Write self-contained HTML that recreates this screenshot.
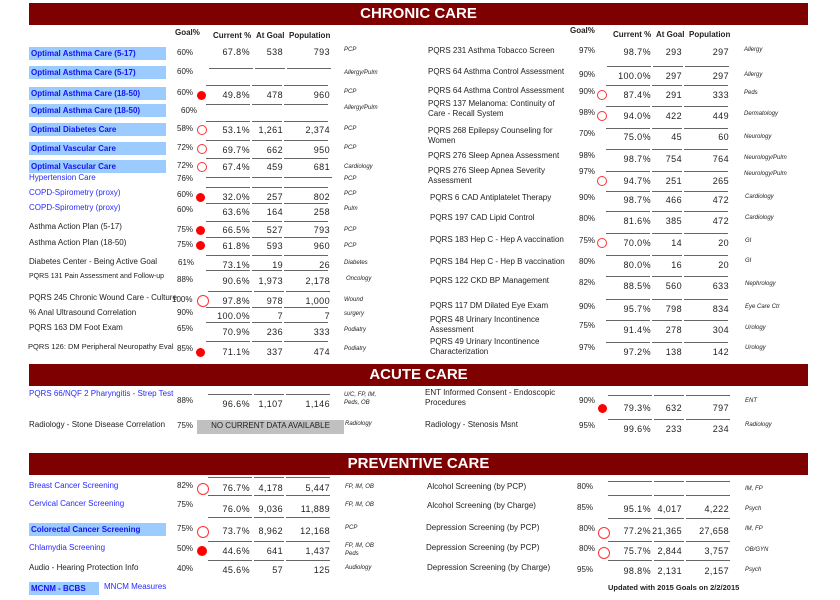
<!DOCTYPE html>
<html><head><meta charset="utf-8"><style>
body{margin:0;width:840px;height:600px;background:#fff;position:relative;overflow:hidden;font-family:"Liberation Sans",sans-serif;color:#222}
div{position:absolute}
.t{font-size:8px;line-height:10px;white-space:nowrap}
.b{background:#7f0000;left:29px;width:779px;height:22px;color:#fff;font-weight:bold;font-size:15px;line-height:22px;text-align:center}
.bl{color:#2a2aff}
.box{background:#9ccbff;color:#1414f0;font-weight:bold;left:29px;width:137px;height:13px;line-height:13px;font-size:8px;padding-left:2px;box-sizing:border-box;white-space:nowrap}
.h{font-size:8px;font-weight:bold;line-height:10px;white-space:nowrap}
.c,.g,.p,.C,.G,.P{font-size:9px;letter-spacing:0.4px}
.c{left:205px;width:45px;text-align:right}
.g{left:251px;width:32px;text-align:right}
.p{left:283px;width:47px;text-align:right}
.C{left:607px;width:44px;text-align:right}
.G{left:652px;width:30px;text-align:right}
.P{left:683px;width:46px;text-align:right}
.d{font-size:6px;font-style:italic;line-height:8px;white-space:nowrap}
.L{height:1px;background:linear-gradient(to right,#666 0,#666 44px,#fff 44px,#fff 46px,#666 46px,#666 76px,#fff 76px,#fff 78px,#666 78px)}
.dot{width:9px;height:9px;border-radius:50%;background:#f00}
.o{width:8px;height:8px;border-radius:50%;border:1px solid #f33}
</style></head><body>
<div class="b" style="top:3px">CHRONIC CARE</div>
<div class="h" style="left:175px;top:28px">Goal%</div>
<div class="h" style="left:213px;top:31px">Current %</div>
<div class="h" style="left:256px;top:31px">At Goal</div>
<div class="h" style="left:289px;top:31px">Population</div>
<div class="h" style="left:570px;top:26px">Goal%</div>
<div class="h" style="left:613px;top:30px">Current %</div>
<div class="h" style="left:656px;top:30px">At Goal</div>
<div class="h" style="left:689px;top:30px">Population</div>

<div class="L" style="left:209px;top:68px;width:122px"></div>
<div class="L" style="left:206px;top:85px;width:122px"></div>
<div class="L" style="left:206px;top:104px;width:122px"></div>
<div class="L" style="left:206px;top:121px;width:122px"></div>
<div class="L" style="left:206px;top:140px;width:122px"></div>
<div class="L" style="left:206px;top:158px;width:122px"></div>
<div class="L" style="left:206px;top:177px;width:126px"></div>
<div class="L" style="left:206px;top:187px;width:122px"></div>
<div class="L" style="left:206px;top:203px;width:122px"></div>
<div class="L" style="left:206px;top:221px;width:122px"></div>
<div class="L" style="left:206px;top:237px;width:122px"></div>
<div class="L" style="left:206px;top:255px;width:122px"></div>
<div class="L" style="left:206px;top:270px;width:122px"></div>
<div class="L" style="left:208px;top:291px;width:122px"></div>
<div class="L" style="left:206px;top:307px;width:122px"></div>
<div class="L" style="left:206px;top:322px;width:122px"></div>
<div class="L" style="left:206px;top:341px;width:122px"></div>

<div class="box" style="top:47px">Optimal Asthma Care (5-17)</div>
<div class="box" style="top:66px">Optimal Asthma Care (5-17)</div>
<div class="box" style="top:87px">Optimal Asthma Care (18-50)</div>
<div class="box" style="top:104px">Optimal Asthma Care (18-50)</div>
<div class="box" style="top:123px">Optimal Diabetes Care</div>
<div class="box" style="top:142px">Optimal Vascular Care</div>
<div class="box" style="top:160px">Optimal Vascular Care</div>
<div class="t bl" style="left:29px;top:173px">Hypertension Care</div>
<div class="t bl" style="left:29px;top:188px">COPD-Spirometry (proxy)</div>
<div class="t bl" style="left:29px;top:203px">COPD-Spirometry (proxy)</div>
<div class="t" style="left:29px;top:222px">Asthma Action Plan (5-17)</div>
<div class="t" style="left:29px;top:238px">Asthma Action Plan (18-50)</div>
<div class="t" style="left:29px;top:257px">Diabetes Center - Being Active Goal</div>
<div class="t" style="left:29px;top:272px;font-size:7px">PQRS 131 Pain Assessment and Follow-up</div>
<div class="t" style="left:29px;top:293px">PQRS 245 Chronic Wound Care - Culture</div>
<div class="t" style="left:29px;top:308px">% Anal Ultrasound Correlation</div>
<div class="t" style="left:29px;top:323px">PQRS 163 DM Foot Exam</div>
<div class="t" style="left:28px;top:342px;font-size:7.5px">PQRS 126: DM Peripheral Neuropathy Eval</div>

<div class="t" style="left:177px;top:48px">60%</div>
<div class="t" style="left:177px;top:67px">60%</div>
<div class="t" style="left:177px;top:88px">60%</div>
<div class="t" style="left:181px;top:106px">60%</div>
<div class="t" style="left:177px;top:124px">58%</div>
<div class="t" style="left:177px;top:143px">72%</div>
<div class="t" style="left:177px;top:161px">72%</div>
<div class="t" style="left:177px;top:174px">76%</div>
<div class="t" style="left:177px;top:190px">60%</div>
<div class="t" style="left:177px;top:205px">60%</div>
<div class="t" style="left:177px;top:225px">75%</div>
<div class="t" style="left:177px;top:240px">75%</div>
<div class="t" style="left:178px;top:258px">61%</div>
<div class="t" style="left:177px;top:275px">88%</div>
<div class="t" style="left:172px;top:295px">100%</div>
<div class="t" style="left:177px;top:308px">90%</div>
<div class="t" style="left:177px;top:324px">65%</div>
<div class="t" style="left:177px;top:344px">85%</div>

<div class="dot" style="left:197px;top:91px"></div>
<div class="o" style="left:197px;top:125px"></div>
<div class="o" style="left:197px;top:144px"></div>
<div class="o" style="left:197px;top:162px"></div>
<div class="dot" style="left:196px;top:193px"></div>
<div class="dot" style="left:196px;top:226px"></div>
<div class="dot" style="left:196px;top:241px"></div>
<div class="o" style="left:197px;top:295px;width:10px;height:10px"></div>
<div class="dot" style="left:196px;top:348px"></div>

<div class="t c" style="top:47px">67.8%</div><div class="t g" style="top:47px">538</div><div class="t p" style="top:47px">793</div>
<div class="t c" style="top:90px">49.8%</div><div class="t g" style="top:90px">478</div><div class="t p" style="top:90px">960</div>
<div class="t c" style="top:125px">53.1%</div><div class="t g" style="top:125px">1,261</div><div class="t p" style="top:125px">2,374</div>
<div class="t c" style="top:145px">69.7%</div><div class="t g" style="top:145px">662</div><div class="t p" style="top:145px">950</div>
<div class="t c" style="top:162px">67.4%</div><div class="t g" style="top:162px">459</div><div class="t p" style="top:162px">681</div>
<div class="t c" style="top:192px">32.0%</div><div class="t g" style="top:192px">257</div><div class="t p" style="top:192px">802</div>
<div class="t c" style="top:207px">63.6%</div><div class="t g" style="top:207px">164</div><div class="t p" style="top:207px">258</div>
<div class="t c" style="top:225px">66.5%</div><div class="t g" style="top:225px">527</div><div class="t p" style="top:225px">793</div>
<div class="t c" style="top:241px">61.8%</div><div class="t g" style="top:241px">593</div><div class="t p" style="top:241px">960</div>
<div class="t c" style="top:260px">73.1%</div><div class="t g" style="top:260px">19</div><div class="t p" style="top:260px">26</div>
<div class="t c" style="top:276px">90.6%</div><div class="t g" style="top:276px">1,973</div><div class="t p" style="top:276px">2,178</div>
<div class="t c" style="top:296px">97.8%</div><div class="t g" style="top:296px">978</div><div class="t p" style="top:296px">1,000</div>
<div class="t c" style="top:311px">100.0%</div><div class="t g" style="top:311px">7</div><div class="t p" style="top:311px">7</div>
<div class="t c" style="top:327px">70.9%</div><div class="t g" style="top:327px">236</div><div class="t p" style="top:327px">333</div>
<div class="t c" style="top:347px">71.1%</div><div class="t g" style="top:347px">337</div><div class="t p" style="top:347px">474</div>

<div class="d" style="left:344px;top:46px">PCP</div>
<div class="d" style="left:344px;top:69px">Allergy/Pulm</div>
<div class="d" style="left:344px;top:88px">PCP</div>
<div class="d" style="left:344px;top:104px">Allergy/Pulm</div>
<div class="d" style="left:344px;top:125px">PCP</div>
<div class="d" style="left:344px;top:144px">PCP</div>
<div class="d" style="left:344px;top:163px">Cardiology</div>
<div class="d" style="left:344px;top:175px">PCP</div>
<div class="d" style="left:344px;top:190px">PCP</div>
<div class="d" style="left:344px;top:205px">Pulm</div>
<div class="d" style="left:344px;top:226px">PCP</div>
<div class="d" style="left:344px;top:242px">PCP</div>
<div class="d" style="left:344px;top:259px">Diabetes</div>
<div class="d" style="left:346px;top:275px">Oncology</div>
<div class="d" style="left:344px;top:296px">Wound</div>
<div class="d" style="left:344px;top:310px">surgery</div>
<div class="d" style="left:344px;top:326px">Podiatry</div>
<div class="d" style="left:344px;top:345px">Podiatry</div>

<div class="L" style="left:607px;top:66px;width:122px"></div>
<div class="L" style="left:606px;top:85px;width:122px"></div>
<div class="L" style="left:606px;top:106px;width:122px"></div>
<div class="L" style="left:606px;top:128px;width:122px"></div>
<div class="L" style="left:606px;top:149px;width:122px"></div>
<div class="L" style="left:606px;top:171px;width:122px"></div>
<div class="L" style="left:606px;top:191px;width:122px"></div>
<div class="L" style="left:606px;top:211px;width:122px"></div>
<div class="L" style="left:606px;top:233px;width:122px"></div>
<div class="L" style="left:606px;top:255px;width:122px"></div>
<div class="L" style="left:606px;top:276px;width:122px"></div>
<div class="L" style="left:606px;top:299px;width:122px"></div>
<div class="L" style="left:606px;top:320px;width:122px"></div>
<div class="L" style="left:606px;top:342px;width:122px"></div>

<div class="t" style="left:428px;top:46px">PQRS 231 Asthma Tobacco Screen</div>
<div class="t" style="left:428px;top:67px">PQRS 64 Asthma Control Assessment</div>
<div class="t" style="left:428px;top:86px">PQRS 64 Asthma Control Assessment</div>
<div class="t" style="left:428px;top:99px">PQRS 137 Melanoma: Continuity of<br>Care - Recall System</div>
<div class="t" style="left:428px;top:126px">PQRS 268 Epilepsy Counseling for<br>Women</div>
<div class="t" style="left:428px;top:151px">PQRS 276 Sleep Apnea Assessment</div>
<div class="t" style="left:428px;top:166px">PQRS 276 Sleep Apnea Severity<br>Assessment</div>
<div class="t" style="left:430px;top:193px">PQRS 6 CAD Antiplatelet Therapy</div>
<div class="t" style="left:430px;top:213px">PQRS 197 CAD Lipid Control</div>
<div class="t" style="left:430px;top:235px">PQRS 183 Hep C - Hep A vaccination</div>
<div class="t" style="left:430px;top:257px">PQRS 184 Hep C - Hep B vaccination</div>
<div class="t" style="left:430px;top:276px">PQRS 122 CKD BP Management</div>
<div class="t" style="left:430px;top:301px">PQRS 117 DM Dilated Eye Exam</div>
<div class="t" style="left:430px;top:315px">PQRS 48 Urinary Incontinence<br>Assessment</div>
<div class="t" style="left:430px;top:337px">PQRS 49 Urinary Incontinence<br>Characterization</div>

<div class="t" style="left:579px;top:46px">97%</div>
<div class="t" style="left:579px;top:70px">90%</div>
<div class="t" style="left:579px;top:87px">90%</div>
<div class="t" style="left:579px;top:108px">98%</div>
<div class="t" style="left:579px;top:129px">70%</div>
<div class="t" style="left:579px;top:151px">98%</div>
<div class="t" style="left:579px;top:167px">97%</div>
<div class="t" style="left:579px;top:193px">90%</div>
<div class="t" style="left:579px;top:214px">80%</div>
<div class="t" style="left:579px;top:236px">75%</div>
<div class="t" style="left:579px;top:257px">80%</div>
<div class="t" style="left:579px;top:278px">82%</div>
<div class="t" style="left:579px;top:302px">90%</div>
<div class="t" style="left:579px;top:321px">75%</div>
<div class="t" style="left:579px;top:343px">97%</div>

<div class="o" style="left:597px;top:90px"></div>
<div class="o" style="left:597px;top:111px"></div>
<div class="o" style="left:597px;top:176px"></div>
<div class="o" style="left:597px;top:238px"></div>

<div class="t C" style="top:47px">98.7%</div><div class="t G" style="top:47px">293</div><div class="t P" style="top:47px">297</div>
<div class="t C" style="top:71px">100.0%</div><div class="t G" style="top:71px">297</div><div class="t P" style="top:71px">297</div>
<div class="t C" style="top:90px">87.4%</div><div class="t G" style="top:90px">291</div><div class="t P" style="top:90px">333</div>
<div class="t C" style="top:111px">94.0%</div><div class="t G" style="top:111px">422</div><div class="t P" style="top:111px">449</div>
<div class="t C" style="top:132px">75.0%</div><div class="t G" style="top:132px">45</div><div class="t P" style="top:132px">60</div>
<div class="t C" style="top:154px">98.7%</div><div class="t G" style="top:154px">754</div><div class="t P" style="top:154px">764</div>
<div class="t C" style="top:176px">94.7%</div><div class="t G" style="top:176px">251</div><div class="t P" style="top:176px">265</div>
<div class="t C" style="top:195px">98.7%</div><div class="t G" style="top:195px">466</div><div class="t P" style="top:195px">472</div>
<div class="t C" style="top:216px">81.6%</div><div class="t G" style="top:216px">385</div><div class="t P" style="top:216px">472</div>
<div class="t C" style="top:238px">70.0%</div><div class="t G" style="top:238px">14</div><div class="t P" style="top:238px">20</div>
<div class="t C" style="top:260px">80.0%</div><div class="t G" style="top:260px">16</div><div class="t P" style="top:260px">20</div>
<div class="t C" style="top:281px">88.5%</div><div class="t G" style="top:281px">560</div><div class="t P" style="top:281px">633</div>
<div class="t C" style="top:304px">95.7%</div><div class="t G" style="top:304px">798</div><div class="t P" style="top:304px">834</div>
<div class="t C" style="top:325px">91.4%</div><div class="t G" style="top:325px">278</div><div class="t P" style="top:325px">304</div>
<div class="t C" style="top:347px">97.2%</div><div class="t G" style="top:347px">138</div><div class="t P" style="top:347px">142</div>

<div class="d" style="left:744px;top:46px">Allergy</div>
<div class="d" style="left:744px;top:71px">Allergy</div>
<div class="d" style="left:744px;top:89px">Peds</div>
<div class="d" style="left:744px;top:110px">Dermatology</div>
<div class="d" style="left:744px;top:133px">Neurology</div>
<div class="d" style="left:744px;top:154px">Neurology/Pulm</div>
<div class="d" style="left:744px;top:170px">Neurology/Pulm</div>
<div class="d" style="left:745px;top:193px">Cardiology</div>
<div class="d" style="left:745px;top:214px">Cardiology</div>
<div class="d" style="left:745px;top:237px">GI</div>
<div class="d" style="left:745px;top:257px">GI</div>
<div class="d" style="left:745px;top:280px">Nephrology</div>
<div class="d" style="left:745px;top:303px">Eye Care Ctr</div>
<div class="d" style="left:745px;top:324px">Urology</div>
<div class="d" style="left:745px;top:344px">Urology</div>

<div class="b" style="top:364px">ACUTE CARE</div>
<div class="L" style="left:208px;top:394px;width:122px"></div>
<div class="t bl" style="left:29px;top:389px">PQRS 66/NQF 2 Pharyngitis - Strep Test</div>
<div class="t" style="left:177px;top:396px">88%</div>
<div class="t c" style="top:399px">96.6%</div><div class="t g" style="top:399px">1,107</div><div class="t p" style="top:399px">1,146</div>
<div class="d" style="left:344px;top:391px">U/C, FP, IM,<br>Peds, OB</div>
<div class="t" style="left:29px;top:420px">Radiology - Stone Disease Correlation</div>
<div class="t" style="left:177px;top:421px">75%</div>
<div style="left:197px;top:420px;width:147px;height:14px;background:#c0c0c0;font-size:8px;line-height:11px;text-align:center">NO CURRENT DATA AVAILABLE</div>
<div class="d" style="left:345px;top:420px">Radiology</div>

<div class="L" style="left:608px;top:395px;width:122px"></div>
<div class="L" style="left:608px;top:419px;width:122px"></div>
<div class="t" style="left:425px;top:388px">ENT Informed Consent - Endoscopic<br>Procedures</div>
<div class="t" style="left:579px;top:396px">90%</div>
<div class="dot" style="left:598px;top:404px"></div>
<div class="t C" style="top:403px">79.3%</div><div class="t G" style="top:403px">632</div><div class="t P" style="top:403px">797</div>
<div class="d" style="left:745px;top:397px">ENT</div>
<div class="t" style="left:425px;top:420px">Radiology - Stenosis Msnt</div>
<div class="t" style="left:579px;top:421px">95%</div>
<div class="t C" style="top:424px">99.6%</div><div class="t G" style="top:424px">233</div><div class="t P" style="top:424px">234</div>
<div class="d" style="left:745px;top:421px">Radiology</div>

<div class="b" style="top:453px">PREVENTIVE CARE</div>
<div class="L" style="left:208px;top:477px;width:122px"></div>
<div class="L" style="left:208px;top:495px;width:122px"></div>
<div class="L" style="left:208px;top:517px;width:122px"></div>
<div class="L" style="left:208px;top:541px;width:122px"></div>
<div class="L" style="left:208px;top:560px;width:122px"></div>
<div class="t bl" style="left:29px;top:481px">Breast Cancer Screening</div>
<div class="t bl" style="left:29px;top:499px">Cervical Cancer Screening</div>
<div class="box" style="top:523px;width:137px">Colorectal Cancer Screening</div>
<div class="t bl" style="left:29px;top:543px">Chlamydia Screening</div>
<div class="t" style="left:29px;top:563px">Audio - Hearing Protection Info</div>
<div class="box" style="top:582px;width:70px">MCNM - BCBS</div>
<div class="t bl" style="left:104px;top:582px">MNCM Measures</div>
<div class="t" style="left:177px;top:481px">82%</div>
<div class="t" style="left:177px;top:500px">75%</div>
<div class="t" style="left:177px;top:524px">75%</div>
<div class="t" style="left:177px;top:544px">50%</div>
<div class="t" style="left:177px;top:564px">40%</div>
<div class="o" style="left:197px;top:483px;width:10px;height:10px"></div>
<div class="o" style="left:197px;top:526px;width:10px;height:10px"></div>
<div class="dot" style="left:197px;top:546px;width:10px;height:10px"></div>
<div class="t c" style="top:483px">76.7%</div><div class="t g" style="top:483px">4,178</div><div class="t p" style="top:483px">5,447</div>
<div class="t c" style="top:504px">76.0%</div><div class="t g" style="top:504px">9,036</div><div class="t p" style="top:504px">11,889</div>
<div class="t c" style="top:526px">73.7%</div><div class="t g" style="top:526px">8,962</div><div class="t p" style="top:526px">12,168</div>
<div class="t c" style="top:546px">44.6%</div><div class="t g" style="top:546px">641</div><div class="t p" style="top:546px">1,437</div>
<div class="t c" style="top:565px">45.6%</div><div class="t g" style="top:565px">57</div><div class="t p" style="top:565px">125</div>
<div class="d" style="left:345px;top:483px">FP, IM, OB</div>
<div class="d" style="left:345px;top:501px">FP, IM, OB</div>
<div class="d" style="left:345px;top:524px">PCP</div>
<div class="d" style="left:345px;top:542px">FP, IM, OB<br>Peds</div>
<div class="d" style="left:345px;top:564px">Audiology</div>

<div class="L" style="left:608px;top:481px;width:122px"></div>
<div class="L" style="left:608px;top:495px;width:122px"></div>
<div class="L" style="left:608px;top:518px;width:122px"></div>
<div class="L" style="left:608px;top:541px;width:122px"></div>
<div class="L" style="left:608px;top:560px;width:122px"></div>
<div class="t" style="left:427px;top:482px">Alcohol Screening (by PCP)</div>
<div class="t" style="left:427px;top:501px">Alcohol Screening (by Charge)</div>
<div class="t" style="left:426px;top:523px">Depression Screening (by PCP)</div>
<div class="t" style="left:426px;top:543px">Depression Screening (by PCP)</div>
<div class="t" style="left:427px;top:563px">Depression Screening (by Charge)</div>
<div class="t" style="left:577px;top:482px">80%</div>
<div class="t" style="left:577px;top:503px">85%</div>
<div class="t" style="left:579px;top:524px">80%</div>
<div class="t" style="left:579px;top:544px">80%</div>
<div class="t" style="left:577px;top:565px">95%</div>
<div class="o" style="left:598px;top:527px;width:10px;height:10px"></div>
<div class="o" style="left:598px;top:547px;width:10px;height:10px"></div>
<div class="t C" style="top:504px">95.1%</div><div class="t G" style="top:504px">4,017</div><div class="t P" style="top:504px">4,222</div>
<div class="t C" style="top:526px">77.2%</div><div class="t G" style="top:526px">21,365</div><div class="t P" style="top:526px">27,658</div>
<div class="t C" style="top:546px">75.7%</div><div class="t G" style="top:546px">2,844</div><div class="t P" style="top:546px">3,757</div>
<div class="t C" style="top:566px">98.8%</div><div class="t G" style="top:566px">2,131</div><div class="t P" style="top:566px">2,157</div>
<div class="d" style="left:745px;top:485px">IM, FP</div>
<div class="d" style="left:745px;top:505px">Psych</div>
<div class="d" style="left:745px;top:525px">IM, FP</div>
<div class="d" style="left:745px;top:546px">OB/GYN</div>
<div class="d" style="left:745px;top:566px">Psych</div>
<div class="t" style="left:608px;top:583px;font-weight:bold;font-size:7.5px">Updated with 2015 Goals on 2/2/2015</div>
</body></html>
